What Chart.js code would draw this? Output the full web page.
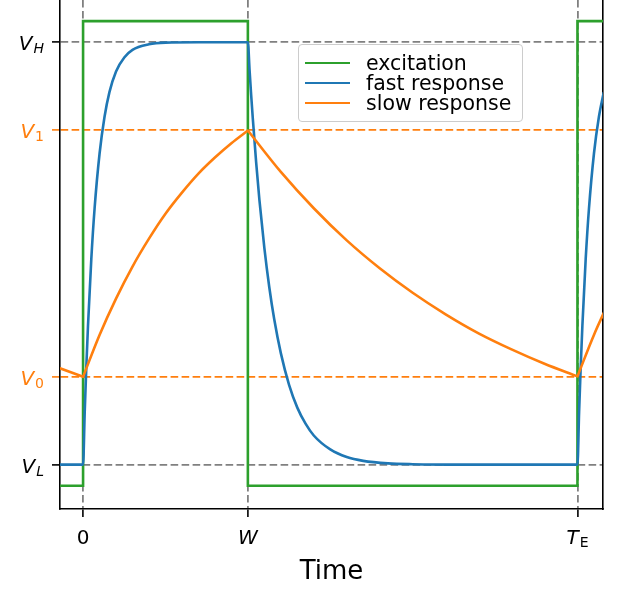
<!DOCTYPE html>
<html>
<head>
<meta charset="utf-8">
<script src="https://cdn.jsdelivr.net/npm/chart.js@4.4.0/dist/chart.umd.min.js"></script>
<style>
  body { margin: 0; background: #fff; }
  #wrap { position: relative; width: 621px; height: 592px; font-family: "DejaVu Sans", sans-serif; }
  #wrap canvas { position: absolute; left: 0; top: 0; }
  .lbl { position: absolute; font-size: 20px; line-height: 20px; white-space: nowrap; }
  .sub { font-size: 14px; position: relative; top: 3px; margin-left: 1px; }
  #legend {
    position: absolute; left: 298px; top: 44px; width: 223px; height: 76px;
    border: 1.6px solid #cccccc; border-radius: 4px; background: rgba(255,255,255,0.8);
  }
  #legend .row { position: absolute; left: 0; height: 20px; }
  #legend .swatch { position: absolute; left: 6px; width: 45px; height: 2.6px; }
  #legend .txt { position: absolute; left: 67px; top: 0; font-size: 20.5px; line-height: 20px; white-space: nowrap; color: #000; }
</style>
</head>
<body>
<div id="wrap">
  <canvas id="chart" width="621" height="592"></canvas>
  <div id="ticks"></div>
  <div id="legend"></div>
</div>
<script>
// excitation (square wave)
const excTime = [-0.14, 0, 0, 1, 1, 3, 3, 3.155];
const excValues = [-0.05, -0.05, 1.05, 1.05, -0.05, -0.05, 1.05, 1.05];

// fast response
const fastTime = [-0.14, 0, 0.01, 0.02, 0.03, 0.05, 0.07, 0.1, 0.13, 0.16, 0.2, 0.25, 0.3, 0.4, 0.5, 0.7,
  1.0, 1.01, 1.02, 1.03, 1.05, 1.07, 1.1, 1.13, 1.16, 1.2, 1.25, 1.3, 1.35, 1.4, 1.5, 1.6, 1.7, 1.85, 2.0, 2.3,
  3.0, 3.01, 3.02, 3.03, 3.05, 3.07, 3.1, 3.13, 3.16];
const fastValues = [0, 0, 0.125, 0.234, 0.33, 0.487, 0.607, 0.736, 0.823, 0.882, 0.931, 0.964, 0.982, 0.995, 0.999, 1,
  1, 0.936, 0.875, 0.819, 0.717, 0.627, 0.513, 0.42, 0.344, 0.264, 0.189, 0.135, 0.097, 0.069, 0.036, 0.018, 0.009, 0.003, 0.001, 0,
  0, 0.125, 0.234, 0.33, 0.487, 0.607, 0.736, 0.823, 0.882];

// slow response
const slowTime = [-0.14, 0, 0.1, 0.2, 0.3, 0.4, 0.5, 0.6, 0.7, 0.8, 0.9, 1.0,
  1.2, 1.4, 1.6, 1.8, 2.0, 2.2, 2.4, 2.6, 2.8, 3.0, 3.1, 3.2];
const slowValues = [0.228, 0.208, 0.307, 0.393, 0.469, 0.535, 0.594, 0.644, 0.689, 0.727, 0.761, 0.791,
  0.693, 0.607, 0.531, 0.465, 0.407, 0.356, 0.311, 0.273, 0.239, 0.209, 0.307, 0.393];
// corners of the slow response (switching instants 0, W, T_E)
const slowCorners = [1, 11, 21];

// ticks
const xTickValues = [0, 1, 3];
const xTickMain = ["0", "W", "T"];
const xTickSub = ["", "", "E"];
const xTickItalic = [false, true, true];

const yTickValues = [0, 0.208, 0.792, 1];
const yTickMain = ["V", "V", "V", "V"];
const yTickSub = ["L", "0", "1", "H"];
const yTickSubItalic = [true, false, false, true];
const yTickColors = ["#000000", "#ff7f0e", "#ff7f0e", "#000000"];
const yGridColors = ["#808080", "#ff7f0e", "#ff7f0e", "#808080"];

const seriesNames = ["excitation", "fast response", "slow response"];
const seriesColors = ["#2ca02c", "#1f77b4", "#ff7f0e"];

const toPoints = (xs, ys) => xs.map((x, i) => ({ x: x, y: ys[i] }));

// break the smoothed curve at the corners so they stay sharp
function withCorners(xs, ys, corners) {
  const pts = [];
  xs.forEach((x, i) => {
    pts.push({ x: x, y: ys[i] });
    if (corners.includes(i)) {
      pts.push({ x: x, y: null });
      pts.push({ x: x, y: ys[i] });
    }
  });
  return pts;
}

const dash = [7.6, 3.4];

const chart = new Chart(document.getElementById("chart").getContext("2d"), {
  type: "line",
  data: {
    datasets: [
      {
        label: seriesNames[0], data: toPoints(excTime, excValues),
        borderColor: seriesColors[0], borderWidth: 2.6, pointRadius: 0, tension: 0, order: 3
      },
      {
        label: seriesNames[1], data: toPoints(fastTime, fastValues),
        borderColor: seriesColors[1], borderWidth: 2.6, pointRadius: 0,
        cubicInterpolationMode: "monotone", order: 2
      },
      {
        label: seriesNames[2], data: withCorners(slowTime, slowValues, slowCorners),
        borderColor: seriesColors[2], borderWidth: 2.6, pointRadius: 0,
        cubicInterpolationMode: "monotone", spanGaps: false, borderCapStyle: "round", order: 1
      }
    ]
  },
  options: {
    responsive: false,
    animation: false,
    devicePixelRatio: 1,
    layout: { padding: 0 },
    plugins: { legend: { display: false }, tooltip: { enabled: false } },
    scales: {
      x: {
        type: "linear", min: -0.14, max: 3.155,
        afterBuildTicks: s => { s.ticks = xTickValues.map(v => ({ value: v })); },
        afterFit: s => { s.height = 83; },
        ticks: { display: false },
        grid: { color: "#808080", lineWidth: 1.8, tickColor: "#000000", tickLength: 8, tickWidth: 1.6 },
        border: { display: true, color: "#000000", width: 1.6, dash: dash },
        title: {
          display: true, text: "Time", color: "#000000",
          font: { family: "DejaVu Sans", size: 26 }, padding: { top: 0, bottom: 4 }
        }
      },
      y: {
        type: "linear", min: -0.105, max: 1.1,
        afterBuildTicks: s => { s.ticks = yTickValues.map(v => ({ value: v })); },
        afterFit: s => { s.width = 60; },
        ticks: { display: false },
        grid: {
          color: ctx => yGridColors[ctx.index] || "#808080",
          tickColor: ctx => yTickColors[ctx.index] || "#000000",
          lineWidth: 1.8, tickLength: 8, tickWidth: 1.6
        },
        border: { display: true, color: "#000000", width: 1.6, dash: dash }
      },
      yRight: {
        type: "linear", position: "right", min: -0.105, max: 1.1,
        afterFit: s => { s.width = 18; },
        ticks: { display: false },
        grid: { drawOnChartArea: false, drawTicks: false },
        border: { display: true, color: "#000000", width: 1.6 }
      }
    }
  }
});

// tick labels with subscripts, placed from the chart's own scales
const tickBox = document.getElementById("ticks");
const xs = chart.scales.x, ys = chart.scales.y;

yTickValues.forEach((v, i) => {
  const d = document.createElement("div");
  d.className = "lbl";
  d.style.color = yTickColors[i];
  d.style.right = (621 - 44) + "px";
  d.style.top = (ys.getPixelForValue(v) - 8.9) + "px";
  const m = document.createElement("i");
  m.textContent = yTickMain[i];
  const s = document.createElement("span");
  s.className = "sub";
  s.style.fontStyle = yTickSubItalic[i] ? "italic" : "normal";
  s.textContent = yTickSub[i];
  d.appendChild(m);
  d.appendChild(s);
  tickBox.appendChild(d);
});

xTickValues.forEach((v, i) => {
  const d = document.createElement("div");
  d.className = "lbl";
  d.style.left = xs.getPixelForValue(v) + "px";
  d.style.top = "527px";
  d.style.transform = "translateX(-50%)";
  const m = document.createElement("span");
  m.style.fontStyle = xTickItalic[i] ? "italic" : "normal";
  m.textContent = xTickMain[i];
  d.appendChild(m);
  if (xTickSub[i]) {
    const s = document.createElement("span");
    s.className = "sub";
    s.textContent = xTickSub[i];
    d.appendChild(s);
  }
  tickBox.appendChild(d);
});

// legend
const legend = document.getElementById("legend");
seriesNames.forEach((name, i) => {
  const row = document.createElement("div");
  row.className = "row";
  row.style.top = (8 + i * 20) + "px";
  const sw = document.createElement("div");
  sw.className = "swatch";
  sw.style.background = seriesColors[i];
  sw.style.top = "8.7px";
  const t = document.createElement("div");
  t.className = "txt";
  t.textContent = name;
  row.appendChild(sw);
  row.appendChild(t);
  legend.appendChild(row);
});
</script>
</body>
</html>
